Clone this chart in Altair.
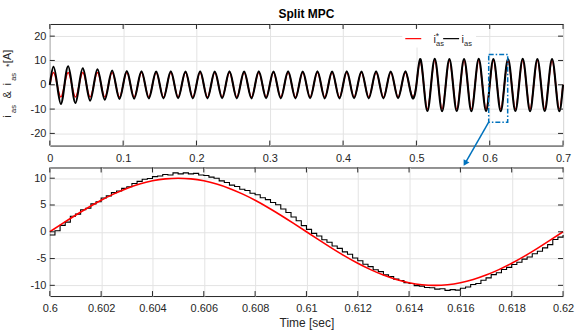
import altair as alt
import pandas as pd

# ---------------- data ----------------
# top panel: signed peak values of each half cycle (50 Hz -> quarter period 5 ms)
quarter = 0.005
black_peaks = [
    7.4, -7.9, 7.6, -7.5, 6.8, -6.5, 6.4, -6.1, 5.9, -5.8,
    5.6, -5.7, 5.5, -5.6, 5.4, -5.6, 5.5, -5.5, 5.4, -5.6,
    5.5, -5.6, 5.4, -5.5, 5.5, -5.6, 5.4, -5.6, 5.5, -5.5,
    5.4, -5.6, 5.5, -5.6, 5.4, -5.5, 5.5, -5.6, 5.4, -5.6,
    5.5, -5.5, 5.4, -5.6, 5.5, -5.6, 5.4, -5.5, 5.5, -5.6,
    10.6, -10.8, 10.7, -10.9, 10.6, -10.8, 10.6, -10.9, 10.7, -10.8,
    10.6, -10.9, 10.6, -10.8, 10.7, -10.9, 10.6, -10.8, 10.6, -10.9,
]
red_peaks = [5.0, -5.0] * 25 + [10.0, -10.0] * 10

# bottom panel (zoom 0.6 .. 0.62 s)
zoom_step = 0.0002
black_zoom = [
    -0.6, 0.2, 1.2, 1.8, 2.9, 3.3, 4.1, 4.4, 5.2, 5.6,
    6.3, 6.7, 7.3, 7.6, 8.1, 8.4, 9.0, 9.4, 9.8, 9.95,
    10.3, 10.4, 10.7, 10.6, 11.0, 10.8, 11.0, 10.8, 10.9, 10.6,
    10.5, 10.2, 10.0, 9.5, 9.2, 8.7, 8.45, 7.95, 7.7, 7.2,
    6.9, 6.35, 6.0, 5.45, 5.05, 4.25, 3.6, 2.75, 2.05, 1.15,
    0.45, -0.3, -0.8, -1.5, -1.95, -2.65, -3.1, -3.75, -4.2, -4.9,
    -5.4, -6.05, -6.5, -7.1, -7.45, -8.05, -8.35, -8.85, -9.1, -9.5,
    -9.65, -10.05, -10.15, -10.4, -10.45, -10.7, -10.65, -10.95, -10.8, -10.9,
    -10.55, -10.3, -9.85, -9.65, -9.05, -8.6, -8.0, -7.65, -7.05, -6.65,
    -6.1, -5.7, -5.1, -4.7, -4.1, -3.65, -3.0, -2.4, -1.45, -1.0,
    -0.6,
]
red_step = 0.0005
red_zoom = [
    0.0, 1.56, 3.09, 4.54, 5.88, 7.07, 8.09, 8.91, 9.51, 9.88,
    10.0, 9.88, 9.51, 8.91, 8.09, 7.07, 5.88, 4.54, 3.09, 1.56,
    0.0, -1.56, -3.09, -4.54, -5.88, -7.07, -8.09, -8.91, -9.51, -9.88,
    -10.0, -9.88, -9.51, -8.91, -8.09, -7.07, -5.88, -4.54, -3.09, -1.56,
    0.0,
]

top_xticks = [0, 0.1, 0.2, 0.3, 0.4, 0.5, 0.6, 0.7]
top_yticks = [-20, -10, 0, 10, 20]
bot_xticks = [0.6, 0.602, 0.604, 0.606, 0.608, 0.61, 0.612, 0.614, 0.616, 0.618, 0.62]
bot_yticks = [-10, -5, 0, 5, 10]

zoom_box = {"t": [0.5986], "t2": [0.6245], "v": [-15.4], "v2": [12.5]}
arrow = {"t": [0.5986], "t2": [0.5664], "v": [-15.4], "v2": [-32.3]}
arrow_head = {"t": [0.5664], "v": [-32.3]}


def quarter_series(peaks):
    ts, vs = [0.0], [0.0]
    for i, p in enumerate(peaks):
        ts += [(2 * i + 1) * quarter, (2 * i + 2) * quarter]
        vs += [p, 0.0]
    return pd.DataFrame({"t": ts, "v": vs})


df_top_black = quarter_series(black_peaks)
df_top_red = quarter_series(red_peaks)
df_bot_black = pd.DataFrame({"t": [0.6 + i * zoom_step for i in range(len(black_zoom))], "v": black_zoom})
df_bot_red = pd.DataFrame({"t": [0.6 + i * red_step for i in range(len(red_zoom))], "v": red_zoom})

# ---------------- style ----------------
W = 515
H1 = 122
H2 = 129
FONT = "Liberation Sans"
AXC = "#262626"
GRID = "#e3e3e3"
BLUE = "#0072BD"
TL = 5
one = pd.DataFrame({"k": [0]})


def axis_x(vals, title=None):
    kw = dict(values=vals, labelExpr="'' + datum.value", grid=True, gridColor=GRID,
              gridWidth=1, ticks=False, domain=False, labelFont=FONT, labelFontSize=11,
              labelColor=AXC, labelPadding=6.5, labelFlush=False, labelOverlap=False)
    if title:
        kw.update(title=title, titleFont=FONT, titleFontSize=12, titleFontWeight="normal",
                  titleColor=AXC, titlePadding=4)
    else:
        kw.update(title=None)
    return alt.Axis(**kw)


def axis_y(vals):
    return alt.Axis(values=vals, labelExpr="'' + datum.value", grid=True, gridColor=GRID,
                    gridWidth=1, ticks=False, domain=False, labelFont=FONT, labelFontSize=11,
                    labelColor=AXC, labelPadding=4, labelFlush=False, title=None)


def panel(dom_x, dom_y, xt, yt, H, xtitle=None):
    X = alt.X("t:Q", scale=alt.Scale(domain=dom_x, nice=False, zero=False), axis=axis_x(xt, xtitle))
    Y = alt.Y("v:Q", scale=alt.Scale(domain=dom_y, nice=False, zero=False), axis=axis_y(yt))
    dfx = pd.DataFrame({"t": xt})
    dfy = pd.DataFrame({"v": yt})
    ticks = [
        alt.Chart(dfx).mark_rule(color=AXC, strokeWidth=1).encode(x=X, y=alt.value(H), y2=alt.value(H - TL)),
        alt.Chart(dfx).mark_rule(color=AXC, strokeWidth=1).encode(x=X, y=alt.value(0), y2=alt.value(TL)),
        alt.Chart(dfy).mark_rule(color=AXC, strokeWidth=1).encode(y=Y, x=alt.value(0), x2=alt.value(TL)),
        alt.Chart(dfy).mark_rule(color=AXC, strokeWidth=1).encode(y=Y, x=alt.value(W), x2=alt.value(W - TL)),
    ]
    return X, Y, ticks


def label(txt, x, y, size=11, angle=0, color=AXC):
    return alt.Chart(one).mark_text(text=txt, font=FONT, fontSize=size, align="left",
                                    baseline="alphabetic", angle=angle, color=color).encode(
        x=alt.value(x), y=alt.value(y))


# ---------------- top panel ----------------
X1, Y1, ticks1 = panel([0, 0.7], [-25, 25], top_xticks, top_yticks, H1)

red1 = alt.Chart(df_top_red).mark_line(color="#ff0000", strokeWidth=1.5, interpolate="natural").encode(x=X1, y=Y1)
black1 = alt.Chart(df_top_black).mark_line(color="#000000", strokeWidth=2.1, interpolate="natural").encode(x=X1, y=Y1)

box = alt.Chart(pd.DataFrame(zoom_box)).mark_rect(filled=False, stroke=BLUE, strokeWidth=1.5,
                                                   strokeDash=[5, 2, 1.5, 2]).encode(
    x=X1, x2="t2:Q", y=Y1, y2="v2:Q")
arr = alt.Chart(pd.DataFrame(arrow)).mark_rule(color=BLUE, strokeWidth=1.5).encode(
    x=X1, x2="t2:Q", y=Y1, y2="v2:Q")
head = alt.Chart(pd.DataFrame(arrow_head)).mark_point(shape="triangle-up", filled=True, size=45,
                                                      angle=210, color=BLUE, opacity=1).encode(x=X1, y=Y1)

legend_bg = alt.Chart(one).mark_rect(color="white").encode(
    x=alt.value(353.7), x2=alt.value(427.7), y=alt.value(4), y2=alt.value(23.5))
leg_red = alt.Chart(one).mark_rule(color="#ff0000", strokeWidth=1.2).encode(
    x=alt.value(356.7), x2=alt.value(372.7), y=alt.value(14.7))
leg_black = alt.Chart(one).mark_rule(color="#000000", strokeWidth=1.2).encode(
    x=alt.value(394.7), x2=alt.value(410.7), y=alt.value(14.7))
leg_txt = [
    label("i", 385.0, 18.7, 11),
    label("*", 387.2, 15.3, 8.5),
    label("as", 387.6, 22, 7.5),
    label("i", 413.2, 18.7, 11),
    label("as", 415.6, 22, 7.5),
]

ytitle = [
    label("i", -38.8, 94.2, 11, 270),
    label("as", -34.3, 89.3, 7.5, 270),
    label("&", -38.8, 74.7, 11, 270),
    label("i", -38.8, 61.8, 11, 270),
    label("as", -34.3, 57, 7.5, 270),
    label("*", -38.0, 43.2, 9, 270),
    label("[A]", -38.8, 39.3, 11, 270),
]

top = alt.layer(red1, black1, legend_bg, leg_red, leg_black, *leg_txt, box, arr, head, *ytitle, *ticks1).properties(
    width=W, height=H1,
    title=alt.TitleParams("Split MPC", font=FONT, fontSize=12, fontWeight="bold", color="#000000",
                          baseline="alphabetic", offset=-6, anchor="middle", frame="group"))

# ---------------- bottom panel ----------------
X2, Y2, ticks2 = panel([0.6, 0.62], [-12, 12], bot_xticks, bot_yticks, H2, "Time [sec]")
red2 = alt.Chart(df_bot_red).mark_line(color="#ff0000", strokeWidth=1.6, interpolate="natural").encode(x=X2, y=Y2)
black2 = alt.Chart(df_bot_black).mark_line(color="#000000", strokeWidth=1.1, interpolate="step-after").encode(x=X2, y=Y2)

bottom = alt.layer(black2, red2, *ticks2).properties(width=W, height=H2)

chart = alt.vconcat(top, bottom, spacing=0).properties(
    padding={"left": 1, "top": 6.5, "right": 0, "bottom": 0},
    background="white",
).configure_view(stroke=AXC, strokeWidth=1)

chart.save("out.html", embed_options={"renderer": "svg", "actions": False})
